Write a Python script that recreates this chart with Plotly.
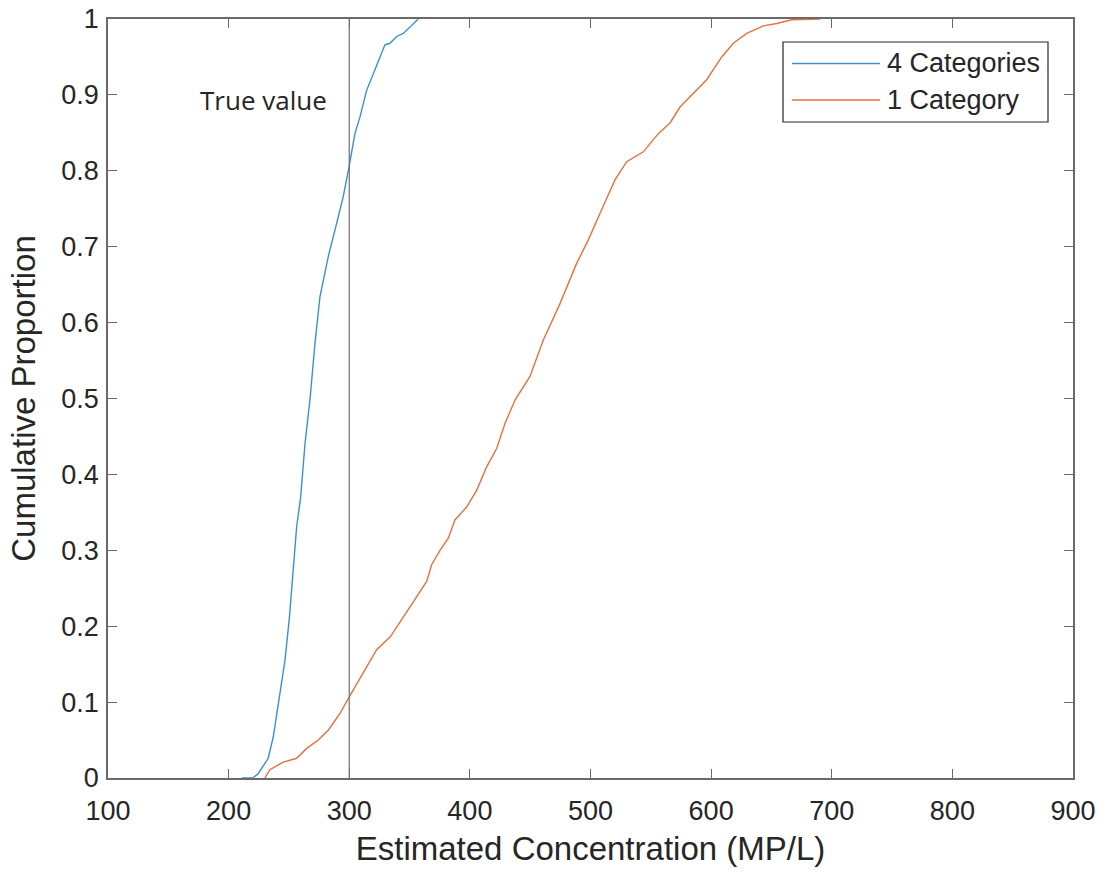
import plotly.graph_objects as go

# 4 Categories (estimated concentration vs cumulative proportion)
four_x = [211, 215, 220, 224.6, 232.8, 237, 242.5, 246.7, 250.3, 253, 256.4, 259.7, 263.3, 267.4,
          271.6, 275.7, 282.6, 289.6, 295, 299.8, 304.7, 308.9, 314.4, 321.3, 329.6, 333.7,
          339.3, 344.8, 351.7, 357.2]
four_y = [0, 0, 0, 0.006, 0.026, 0.054, 0.112, 0.155, 0.21, 0.265, 0.331, 0.37, 0.44, 0.498,
          0.573, 0.634, 0.687, 0.731, 0.766, 0.805, 0.849, 0.871, 0.906, 0.933, 0.966, 0.968,
          0.977, 0.981, 0.992, 1.0]

# 1 Category
one_x = [230, 234.2, 245.3, 256.4, 264.7, 274.3, 282.6, 292.3, 300, 311.6, 322.7, 334, 344.8,
         353.1, 364.2, 368.3, 375.2, 382.1, 387.6, 397.3, 405.6, 413.9, 422.2, 429.1, 437.4,
         449.8, 460.9, 474.7, 488.5, 498.2, 507.9, 520.3, 530, 543.8, 556.2, 565.9, 574.2,
         583.9, 596.3, 608.8, 618.4, 629.5, 643.3, 654.4, 666.9, 690.3]
one_y = [0, 0.011, 0.021, 0.026, 0.039, 0.05, 0.063, 0.085, 0.107, 0.138, 0.169, 0.186, 0.213,
         0.232, 0.259, 0.281, 0.3, 0.316, 0.34, 0.357, 0.379, 0.41, 0.434, 0.467, 0.498,
         0.529, 0.577, 0.625, 0.678, 0.709, 0.744, 0.788, 0.812, 0.825, 0.849, 0.863, 0.884,
         0.9, 0.92, 0.95, 0.968, 0.981, 0.991, 0.994, 0.999, 1.0]

series_names = ["4 Categories", "1 Category"]
series_colors = ["#3d8fd4", "#e8703c"]
true_value = 300
x_ticks = [100, 200, 300, 400, 500, 600, 700, 800, 900]
y_ticks = [0, 0.1, 0.2, 0.3, 0.4, 0.5, 0.6, 0.7, 0.8, 0.9, 1]
y_ticktext = ["0", "0.1", "0.2", "0.3", "0.4", "0.5", "0.6", "0.7", "0.8", "0.9", "1"]

axis_color = "#262626"
line_color = "#6a6a6a"
font_main = "Liberation Sans, Arial, sans-serif"

fig = go.Figure()
fig.add_trace(go.Scatter(x=four_x, y=four_y, mode="lines", name=series_names[0],
                         line=dict(color=series_colors[0], width=1.4), showlegend=False))
fig.add_trace(go.Scatter(x=one_x, y=one_y, mode="lines", name=series_names[1],
                         line=dict(color=series_colors[1], width=1.4), showlegend=False))

fig.add_shape(type="line", x0=true_value, x1=true_value, y0=0, y1=1, xref="x", yref="y",
              line=dict(color="#6e6e6e", width=1.2))
fig.add_annotation(x=228.5, y=0.893, text="True value", showarrow=False,
                   font=dict(family="Open Sans", size=26, color="#262626"))

W, H = 1103, 873
# plot area in page pixels
L, R, T, B = 108, 1073, 19, 778
def px(xp):
    return (xp - L) / (R - L)
def py(yp):
    return (B - yp) / (B - T)

# Legend box (paper coordinates, MATLAB style with long line samples)
fig.add_shape(type="rect", xref="paper", yref="paper", x0=px(783), x1=px(1048), y0=py(122), y1=py(42),
              line=dict(color=axis_color, width=1.2), fillcolor="white", layer="above")
for i, yy in enumerate([63.5, 100]):
    fig.add_shape(type="line", xref="paper", yref="paper", x0=px(792), x1=px(880), y0=py(yy), y1=py(yy),
                  line=dict(color=series_colors[i], width=1.6 if i == 1 else 1.3), layer="above")
    fig.add_annotation(xref="paper", yref="paper", x=px(885), y=py(yy), text=series_names[i],
                       showarrow=False, xanchor="left", yanchor="middle",
                       font=dict(family=font_main, size=27, color=axis_color))

fig.update_layout(
    width=W, height=H,
    margin=dict(l=L, r=W - R, t=T, b=H - B),
    paper_bgcolor="white", plot_bgcolor="white",
    font=dict(family=font_main, size=27, color=axis_color),
    showlegend=False,
    xaxis=dict(range=[100, 900], tickvals=x_ticks, ticks="inside", ticklen=9,
               tickcolor=line_color, showline=True, linecolor=line_color, linewidth=1.5,
               mirror="ticks", showgrid=False, zeroline=False, automargin=False,
               ticklabelstandoff=8,
               title=dict(text="Estimated Concentration (MP/L)", font=dict(size=33), standoff=12),
               tickfont=dict(size=27)),
    yaxis=dict(range=[0, 1], tickvals=y_ticks, ticktext=y_ticktext, ticks="inside", ticklen=9,
               tickcolor=line_color, showline=True, linecolor=line_color, linewidth=1.5,
               mirror="ticks", showgrid=False, zeroline=False, automargin=False,
               ticklabelstandoff=2,
               title=dict(text="Cumulative Proportion", font=dict(size=33), standoff=16),
               tickfont=dict(size=27)),
)
# remove the default page margin so the 1103x873 figure fills the window exactly
fig.write_html("out.html", config={"displayModeBar": False},
               post_script="document.body.style.margin='0';document.body.style.overflow='hidden';")
